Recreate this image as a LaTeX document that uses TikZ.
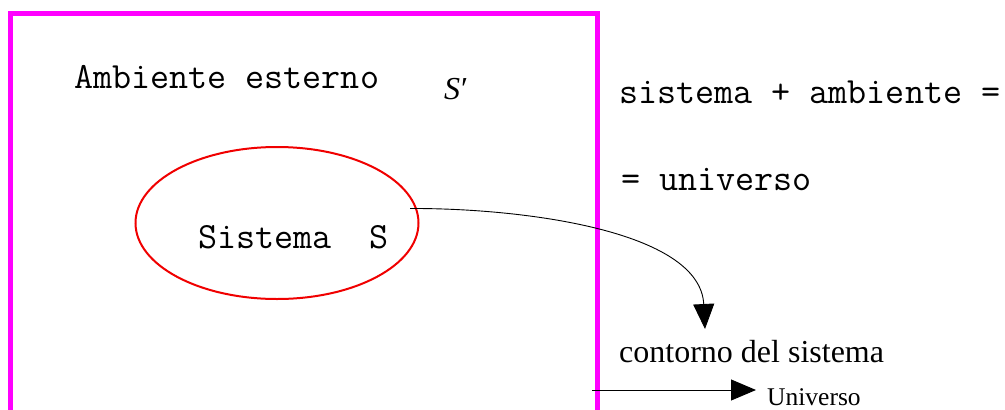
\documentclass[tikz,border=0pt]{standalone}
\usepackage{fontspec}
\setmainfont{Liberation Serif}
\usetikzlibrary{arrows.meta,shapes.geometric}
\definecolor{boxmag}{RGB}{255,0,255}
\definecolor{ellred}{RGB}{240,0,0}
\begin{document}
\begin{tikzpicture}[x=1pt,y=-1pt,
  mono/.style={font=\ttfamily\fontsize{37}{37}\selectfont, inner sep=0pt, anchor=base west},
  serif/.style={font=\fontsize{#1}{#1}\selectfont, inner sep=0pt, anchor=base west},
  conn/.style={line width=0.9pt, -{Triangle[length=25pt,width=21pt]}}]
\useasboundingbox (0,0) rectangle (1005,410);
\begin{scope}
\clip (0,0) rectangle (1005,410);
\draw[boxmag, line width=5pt] (10,412) coordinate (bl) -- (10,13.5) -- (597.5,13.5) -- (597.5,412) coordinate (br);
\end{scope}
\node[draw=ellred, line width=2pt, ellipse, minimum width=283pt, minimum height=152pt, inner sep=0pt] (sys) at (277,223) {};
\node[mono] (amb) at (74,88) {Ambiente esterno};
\node[serif=32] (sp) at (444,99) {\itshape S\kern1pt\raisebox{0pt}{\upshape\char"2032}};
\node[mono] (sist) at (198,248) {Sistema~~S};
\node[mono] (eq1) at (619,103) {sistema + ambiente =};
\node[mono] (eq2) at (621,190) {= universo};
\node[serif=32] (cont) at (619,362) {contorno del sistema};
\node[serif=25.5] (univ) at (767,405) {Universo};
\coordinate (cs) at (410,208.5);
\coordinate (ce) at (705,329);
\draw[conn] (cs) .. controls (520,208) and (700,230) .. (ce);
\coordinate (us) at (592,390);
\coordinate (ue) at (756,390);
\draw[conn] (us) -- (ue);
\end{tikzpicture}
\end{document}
